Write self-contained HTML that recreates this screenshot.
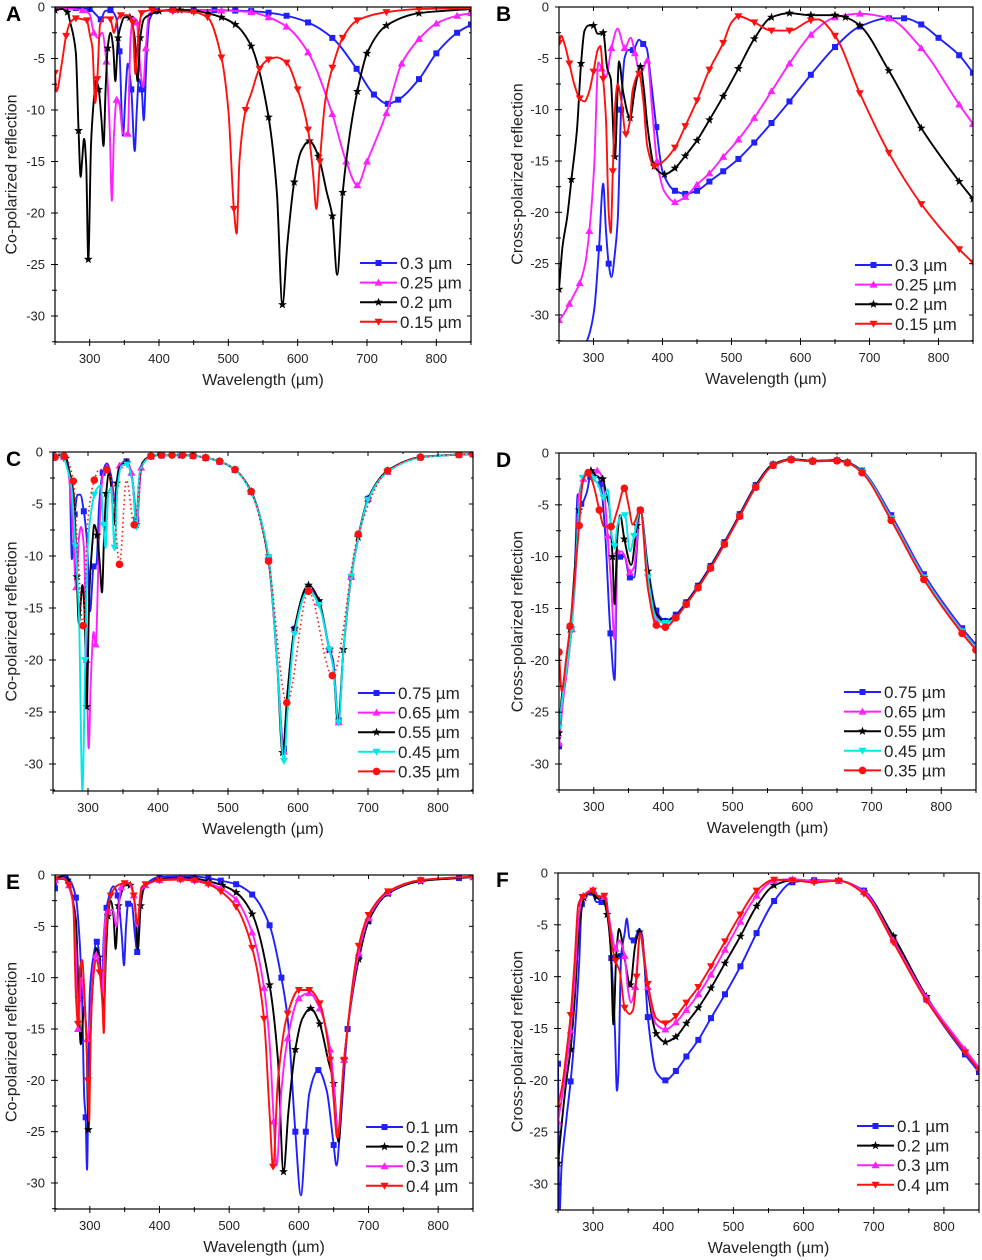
<!DOCTYPE html>
<html><head><meta charset="utf-8">
<style>
html,body{margin:0;padding:0;background:#fff;}
svg{display:block;font-family:"Liberation Sans",Arial,sans-serif;}
</style></head>
<body>
<svg id="fig" width="982" height="1260" viewBox="0 0 982 1260" xmlns="http://www.w3.org/2000/svg"></svg>
<script>
// ---------- DATA: [wavelength, reflection] ----------
const xTicks = [300,400,500,600,700,800];
const yTicks = [0,-5,-10,-15,-20,-25,-30];

// Panel A
const aLabels = ["0.3 µm","0.25 µm","0.2 µm","0.15 µm"];
const aBlue = [[250,-0.05],[280,-0.1],[300,-0.2],[310,-0.8],[316,-1.2],[322,-0.4],[330,-0.3],[338,-1],[343,-4.3],[348,-12.5],[352,-8],[355,-5.5],[360,-8],[365,-14],[368,-10],[371,-7],[375,-8],[378,-11],[382,-5],[386,-1.3],[395,-0.4],[420,-0.3],[450,-0.3],[480,-0.3],[510,-0.35],[533,-0.4],[558,-0.55],[584,-0.85],[615,-1.5],[650,-3],[685,-6],[710,-8.5],[730,-9.4],[745,-9],[775,-7],[800,-4.5],[830,-2.5],[850,-1.7]];
const aMag = [[250,-0.1],[290,-0.3],[300,-0.7],[306,-2.5],[312,-3],[318,-2.5],[324,-5.3],[329,-12],[332,-18.8],[335,-12.5],[339,-9],[343,-9.5],[348,-12.3],[355,-12.3],[359,-3],[363,-1],[368,-1.5],[373,-6],[377,-7.8],[381,-4],[386,-0.6],[420,-0.3],[450,-0.3],[490,-0.35],[533,-0.5],[558,-1],[584,-1.9],[615,-4.4],[650,-10.4],[670,-15],[686,-17.3],[700,-15],[728,-10.3],[750,-5.5],[775,-3.1],[800,-1.6],[830,-0.85],[850,-0.6]];
const aBlack = [[250,-0.3],[260,-0.2],[268,-0.5],[272,-1.5],[280,-4.4],[284,-12],[287,-16.5],[289,-15],[292,-12.8],[295,-15.3],[298,-24.5],[302,-13.3],[306,-9],[309,-7.1],[313,-8],[317,-10.9],[320,-13.5],[323,-8],[326,-4],[330,-2.5],[334,-4],[337,-7.2],[341,-3],[345,-1.8],[350,-1],[358,-1],[365,-3],[369,-7.2],[373,-3],[378,-1.2],[385,-0.8],[400,-0.4],[430,-0.3],[450,-0.35],[470,-0.6],[490,-1],[510,-1.7],[533,-3.8],[558,-10.7],[570,-18],[578,-28.9],[585,-23.1],[595,-17],[605,-14],[617,-13],[630,-14.5],[642,-18],[650,-20.3],[657,-26],[665,-18],[676,-12],[686,-8.2],[700,-4.5],[728,-1.8],[775,-0.6],[850,-0.2]];
const aRed = [[250,-6.4],[252,-8.2],[260,-5.4],[266,-2.8],[272,-1.5],[280,-1.1],[290,-1.2],[296,-1.3],[300,-2.6],[304,-4],[308,-9.3],[311,-7],[315,-1.7],[322,-1],[330,-1.2],[335,-2.5],[340,-1.2],[345,-0.8],[355,-0.8],[362,-1.5],[366,-6.5],[370,-3],[375,-0.6],[390,-0.3],[420,-0.4],[450,-0.5],[470,-1],[490,-4.9],[500,-10],[508,-19.6],[512,-22],[516,-15],[525,-10],[533,-8.4],[545,-6],[558,-5.1],[570,-4.9],[584,-5.4],[600,-8],[615,-11.9],[622,-16],[627,-19.6],[632,-15],[640,-9],[650,-5.9],[665,-3],[686,-1.3],[728,-0.5],[775,-0.2],[850,-0.1]];

// Panel B
const bLabels = ["0.3 µm","0.25 µm","0.2 µm","0.15 µm"];
const bBlue = [[288,-33],[295,-31.6],[301,-29.5],[308,-23.5],[314,-17.2],[318,-21.7],[322,-25],[326,-26.3],[331,-24],[335,-20.9],[340,-10],[345,-5],[350,-4.2],[357,-4.2],[366,-3.2],[372,-3.6],[377,-4],[383,-7],[391,-11.7],[400,-16],[418,-17.9],[433,-18.2],[450,-17.9],[468,-17],[488,-16],[510,-14.8],[533,-13.2],[558,-11.3],[584,-9.2],[615,-6.6],[650,-3.9],[686,-1.9],[728,-1.1],[750,-1.1],[775,-1.7],[800,-3],[830,-4.7],[850,-6.4]];
const bMag = [[250,-30.5],[256,-30],[265,-28.9],[272,-28],[280,-26.9],[288,-25],[294,-21.8],[301,-15.5],[307,-5.4],[312,-6],[318,-6.8],[326,-4],[335,-2.1],[345,-4],[354,-3],[360,-4.5],[368,-6.5],[378,-5.2],[385,-10],[392,-15],[403,-18],[418,-19],[433,-18.5],[450,-17.3],[468,-16.2],[488,-14.6],[510,-12.9],[533,-10.8],[558,-8.2],[584,-5.5],[615,-2.7],[650,-1],[686,-0.65],[728,-1.1],[775,-4],[830,-9.5],[850,-11.4]];
const bBlack = [[250,-27.5],[255,-23.4],[262,-20.4],[268,-16.8],[276,-12],[282,-5.5],[287,-2.3],[293,-1.8],[300,-1.8],[306,-2.6],[310,-2.6],[314,-2.5],[320,-6],[325,-7],[331,-14.6],[337,-5.3],[343,-8.3],[353,-10.8],[360,-8],[368,-5.8],[373,-8],[378,-11.5],[388,-15.5],[403,-16.3],[418,-15.7],[433,-14.5],[450,-13],[468,-11],[488,-8.7],[510,-6],[533,-3.1],[558,-1],[584,-0.6],[615,-0.8],[650,-0.8],[665,-1],[686,-1.8],[728,-6.2],[775,-11.8],[830,-17],[850,-18.7]];
const bRed = [[250,-3.5],[253,-2.8],[258,-3.6],[265,-5.5],[272,-7.5],[280,-8.9],[287,-9.2],[293,-8.4],[300,-6.3],[306,-4.2],[310,-3.8],[314,-7],[318,-10.8],[322,-20],[325,-22],[328,-16],[332,-9],[335,-7.5],[340,-9],[347,-12.4],[352,-11.4],[357,-8],[366,-6.5],[372,-9],[378,-13.6],[388,-15.5],[398,-15.2],[418,-13.7],[433,-11.6],[450,-9.1],[468,-6.1],[488,-3.5],[500,-1.5],[510,-0.9],[533,-1.5],[558,-2.3],[584,-2.3],[615,-1.3],[625,-1.2],[650,-2.8],[686,-8.4],[728,-14.2],[775,-19.2],[830,-23.6],[850,-24.9]];

// Panel C
const cLabels = ["0.75 µm","0.65 µm","0.55 µm","0.45 µm","0.35 µm"];
const cBlue = [[250,-0.3],[265,-0.4],[271,-1],[274,-3],[277,-10.3],[281,-6],[285,-4.1],[289,-4.1],[294,-5.7],[299,-9],[303,-15.3],[308,-11],[312,-10.8],[316,-5],[321,-2],[327,-1.1],[333,-2.3],[338,-4.5],[344,-1.5],[350,-1],[355,-0.9],[362,-2],[366,-4.3],[369,-6.5],[374,-2],[380,-1],[390,-0.4],[405,-0.3],[433,-0.3],[450,-0.35],[468,-0.55],[488,-0.9],[510,-1.7],[533,-3.8],[558,-10.2],[570,-20],[580,-28.5],[585,-24.5],[595,-17],[615,-13],[630,-14.5],[645,-19],[650,-20],[658,-25.8],[665,-19],[676,-12],[686,-8.2],[700,-4.5],[728,-1.9],[775,-0.5],[830,-0.25],[850,-0.2]];
const cMag = [[250,-0.4],[266,-0.5],[272,-2],[278,-6.8],[283,-13],[287,-8.3],[290,-7.2],[294,-9],[298,-20],[301,-28.5],[304,-22],[308,-17.3],[311,-18.5],[316,-8],[321,-2.3],[327,-1.5],[333,-3],[337,-4.5],[345,-1.3],[355,-0.9],[362,-2],[366,-4.5],[370,-6.8],[376,-1.5],[390,-0.4],[405,-0.3],[433,-0.3],[450,-0.35],[468,-0.55],[488,-0.9],[510,-1.7],[533,-3.8],[558,-10.4],[570,-20],[580,-28.8],[585,-23.3],[595,-17],[615,-12.9],[630,-14.5],[645,-19],[650,-20.5],[658,-26],[665,-19],[676,-12],[686,-8.4],[700,-4.5],[728,-1.9],[775,-0.5],[830,-0.25],[850,-0.2]];
const cBlack = [[250,-0.5],[260,-0.3],[268,-0.6],[272,-1.5],[280,-4.4],[284,-12],[287,-16.5],[289,-15],[292,-12.8],[295,-15.3],[298,-24.5],[302,-13.3],[306,-9],[309,-7],[313,-8],[317,-10.9],[320,-13.5],[323,-8],[326,-4],[330,-2],[334,-4],[337,-7],[341,-3],[345,-1.5],[355,-1],[364,-3],[369,-7],[373,-3],[378,-1],[390,-0.4],[405,-0.3],[433,-0.3],[450,-0.35],[468,-0.55],[488,-0.9],[510,-1.7],[533,-3.8],[558,-10.4],[570,-20],[578,-28.9],[585,-23.1],[595,-17],[615,-12.8],[630,-14.3],[645,-19],[650,-20.3],[657,-26],[665,-19],[676,-12],[686,-8.2],[700,-4.5],[728,-1.8],[775,-0.5],[830,-0.25],[850,-0.2]];
const cCyan = [[250,-0.4],[265,-0.5],[270,-1.5],[276,-3.2],[282,-9],[287,-15.4],[292,-32.5],[296,-20],[300,-8.7],[305,-5.5],[309,-4.1],[313,-3.5],[318,-3.2],[322,-7],[325,-9.2],[329,-4],[333,-3.4],[338,-9.2],[342,-3.5],[348,-1.3],[356,-1.2],[364,-3],[369,-7.2],[374,-2],[380,-1],[390,-0.4],[405,-0.3],[433,-0.3],[450,-0.35],[468,-0.55],[488,-0.9],[510,-1.7],[533,-3.9],[558,-10.1],[570,-20],[580,-29.7],[585,-25],[595,-17.5],[615,-13.3],[630,-14.7],[645,-19],[650,-20.5],[658,-26],[665,-19],[676,-12],[686,-8.3],[700,-4.6],[728,-1.9],[775,-0.55],[830,-0.25],[850,-0.2]];
const cRed = [[253,-0.5],[259,-0.2],[266,-0.4],[272,-1],[279,-2.8],[286,-10.5],[293,-16.7],[300,-6.4],[309,-2.7],[316,-1.7],[327,-1.7],[335,-3.3],[345,-10.8],[355,-2.7],[366,-7],[378,-1],[390,-0.4],[405,-0.3],[420,-0.3],[435,-0.3],[450,-0.35],[468,-0.55],[488,-0.9],[510,-1.7],[533,-3.8],[558,-10.5],[584,-24.1],[615,-13.4],[649,-21.5],[686,-7.9],[728,-1.8],[775,-0.5],[830,-0.25],[850,-0.2]];

// Panel D
const dLabels = ["0.75 µm","0.65 µm","0.55 µm","0.45 µm","0.35 µm"];
const dBlue = [[250,-28.3],[256,-23.5],[262,-20.5],[268,-17],[273,-10.8],[277,-4],[282,-4.9],[290,-3.8],[295,-2.3],[305,-2.2],[310,-3],[316,-7.3],[324,-17.4],[330,-21.9],[334,-10],[338,-10],[344,-10],[352,-12],[358,-12],[367,-5.5],[378,-11],[390,-15.2],[403,-16.2],[418,-15.6],[433,-14.4],[450,-12.8],[468,-10.9],[488,-8.6],[510,-5.9],[533,-3.1],[558,-1.1],[584,-0.6],[615,-0.75],[650,-0.7],[665,-0.9],[686,-1.7],[728,-6],[775,-11.7],[830,-16.9],[850,-18.5]];
const dMag = [[250,-28],[256,-23.8],[262,-20.8],[268,-17],[274,-11.5],[278,-4.5],[285,-2.5],[295,-1.8],[305,-1.7],[313,-2.5],[320,-8],[325,-12.6],[330,-18],[334,-9.5],[340,-9.5],[345,-10],[352,-11.5],[358,-11],[367,-5.5],[378,-11.5],[390,-16],[403,-16.4],[418,-15.8],[433,-14.6],[450,-13],[468,-11.1],[488,-8.8],[510,-6.1],[533,-3.3],[558,-1.2],[584,-0.6],[615,-0.8],[650,-0.7],[665,-0.9],[686,-1.8],[728,-6.2],[775,-11.9],[830,-17.1],[850,-18.7]];
const dBlack = [[250,-27],[254,-23.5],[260,-20.5],[266,-17],[272,-11.8],[279,-5.5],[286,-2.3],[296,-1.7],[305,-2.3],[313,-2.5],[318,-4],[322,-5],[327,-10],[330,-14.6],[334,-8],[338,-6],[344,-8.3],[354,-10.8],[362,-7],[367,-5.5],[378,-11.4],[390,-15.5],[403,-16.3],[418,-15.8],[433,-14.5],[450,-12.9],[468,-11],[488,-8.7],[510,-6],[533,-3.2],[558,-1.1],[584,-0.6],[615,-0.75],[650,-0.7],[665,-0.9],[686,-1.8],[728,-6.3],[775,-12],[830,-17.2],[850,-18.8]];
const dCyan = [[250,-26.5],[256,-23],[262,-20.3],[268,-17],[273,-12],[278,-6.3],[284,-2.4],[293,-1.7],[300,-2.5],[306,-3],[314,-4.3],[320,-3.5],[326,-8],[330,-9],[334,-7],[340,-6],[345,-6],[352,-9.5],[358,-8],[367,-5.5],[378,-12],[390,-16],[403,-16.4],[418,-15.9],[433,-14.6],[450,-13],[468,-11.1],[488,-8.8],[510,-6.1],[533,-3.3],[558,-1.2],[584,-0.65],[615,-0.8],[650,-0.75],[665,-0.95],[686,-1.8],[728,-6.3],[775,-12],[830,-17.2],[850,-18.8]];
const dRed = [[250,-19.2],[254,-23],[260,-20],[266,-16.7],[272,-12.5],[279,-7],[284,-2.7],[292,-1.9],[300,-3.2],[308,-5.5],[315,-7.1],[325,-7.1],[334,-5.5],[344,-3.4],[350,-5],[356,-6.9],[367,-5.5],[378,-13.1],[390,-16.6],[403,-16.8],[418,-15.9],[433,-14.6],[450,-13],[468,-11.1],[488,-8.8],[510,-6.1],[533,-3.3],[558,-1.2],[584,-0.65],[615,-0.8],[650,-0.75],[665,-0.95],[686,-1.9],[728,-6.5],[775,-12.2],[830,-17.4],[850,-19]];

// Panel E
const eLabels = ["0.1 µm","0.2 µm","0.3 µm","0.4 µm"];
const eBlue = [[250,-1.3],[255,-0.2],[265,-0.1],[272,-0.6],[280,-2.2],[285,-6],[289,-12.4],[292,-21.7],[294,-23.6],[296,-28.7],[298,-20],[300,-11.5],[305,-8],[310,-6.5],[314,-8],[317,-10.9],[320,-6],[324,-3.2],[334,-1.1],[340,-2],[346,-6],[349,-8.8],[352,-5],[355,-2.8],[360,-2.8],[365,-6],[368,-7.5],[372,-3],[380,-1],[400,-0.2],[450,-0.15],[470,-0.3],[488,-0.55],[510,-0.9],[533,-1.9],[558,-4.9],[575,-10],[584,-14],[595,-25],[603,-31.2],[610,-25],[615,-21.3],[628,-19],[640,-21],[650,-26.3],[654,-28.3],[660,-24],[670,-15],[686,-8],[700,-4.5],[728,-1.8],[775,-0.55],[830,-0.3],[850,-0.15]];
const eBlack = [[250,-0.3],[260,-0.2],[268,-0.5],[272,-1.5],[280,-4.4],[284,-12],[287,-16.5],[289,-15],[292,-12.8],[295,-15.3],[298,-24.8],[302,-13.3],[306,-9],[309,-7.1],[313,-8],[317,-10.9],[320,-13.5],[323,-8],[326,-4],[330,-2.5],[334,-4],[337,-7.2],[341,-3],[345,-1.8],[350,-1],[358,-1],[365,-3],[369,-7.2],[373,-3],[378,-1.2],[385,-0.8],[400,-0.4],[430,-0.3],[450,-0.35],[470,-0.6],[490,-1],[510,-1.7],[533,-3.8],[558,-10.7],[570,-18],[578,-28.9],[585,-23.1],[595,-17],[605,-14],[617,-13],[630,-14.5],[642,-18],[650,-20.3],[657,-26],[665,-18],[676,-12],[686,-8.2],[700,-4.5],[728,-1.8],[775,-0.6],[850,-0.2]];
const eMag = [[250,-0.5],[262,-0.3],[270,-1],[276,-3],[280,-7.6],[283,-15],[288,-10],[292,-12.3],[296,-16],[300,-14.7],[305,-9],[309,-7.8],[314,-9],[318,-11.5],[321,-5],[326,-3.5],[333,-3.4],[338,-5],[345,-1.2],[355,-0.8],[363,-2],[368,-5],[374,-1.5],[380,-1],[400,-0.5],[430,-0.4],[450,-0.5],[470,-0.8],[488,-1.3],[510,-2.4],[533,-5.6],[550,-11],[558,-16.3],[564,-24],[568,-28.3],[575,-21],[584,-15.9],[600,-12],[615,-11.5],[630,-13],[645,-17],[650,-20.2],[656,-25.5],[665,-18],[686,-7.6],[700,-4.2],[728,-1.7],[775,-0.5],[850,-0.15]];
const eRed = [[250,-0.4],[262,-0.4],[270,-1],[276,-2.5],[280,-11.7],[283,-14.5],[286,-9],[289,-8.3],[292,-11.2],[297,-20],[299,-24],[301,-16],[305,-10],[309,-8.3],[314,-9.5],[318,-12.5],[320,-15.4],[323,-6],[330,-2],[340,-1],[350,-0.8],[358,-0.8],[363,-2],[368,-4.8],[374,-1.2],[380,-0.9],[400,-0.5],[430,-0.45],[450,-0.55],[470,-0.9],[488,-1.6],[510,-3.1],[533,-7.1],[550,-14],[558,-23.2],[563,-28.4],[570,-20],[584,-13.5],[600,-11.2],[615,-11.2],[630,-12.5],[645,-18],[650,-21.9],[655,-25.6],[665,-18],[686,-6.9],[700,-3.9],[728,-1.6],[775,-0.5],[850,-0.15]];

// Panel F
const fLabels = ["0.1 µm","0.2 µm","0.3 µm","0.4 µm"];
const fBlue = [[250,-18.4],[252,-33],[255,-28.4],[262,-23.7],[268,-20.1],[274,-15.4],[280,-8.9],[284,-3],[290,-2.2],[298,-1.9],[305,-2.8],[312,-2.8],[318,-2.5],[326,-8.2],[331,-15],[334,-21],[336,-19.4],[340,-8],[345,-5.8],[348,-4.4],[352,-6.3],[358,-6.5],[366,-5.4],[370,-6],[378,-13.9],[390,-19.2],[403,-20],[418,-19.1],[433,-17.7],[450,-16.1],[468,-14],[488,-11.7],[510,-9],[533,-5.8],[558,-2.7],[584,-0.9],[615,-0.7],[650,-0.75],[686,-1.7],[728,-6.2],[775,-12.2],[830,-17.5],[850,-19.2]];
const fBlack = [[250,-28],[256,-23.7],[262,-20],[268,-17],[274,-12],[280,-5.5],[287,-2.4],[296,-1.9],[305,-2.3],[314,-2.5],[320,-4],[325,-7.2],[329,-14.6],[333,-8],[337,-5.4],[345,-8.3],[353,-10.8],[360,-7],[366,-5.7],[378,-11.4],[390,-15.5],[403,-16.3],[418,-15.8],[433,-14.5],[450,-13],[468,-11.1],[488,-8.7],[510,-6.1],[533,-3.2],[558,-1.2],[584,-0.7],[615,-0.75],[650,-0.75],[686,-1.8],[728,-6.1],[775,-11.9],[830,-17.2],[850,-18.9]];
const fMag = [[250,-24],[256,-21.5],[262,-18.6],[268,-15.2],[274,-10],[280,-4],[286,-2.2],[300,-1.6],[308,-2.3],[316,-2.3],[322,-4],[327,-6],[332,-7.3],[337,-6.5],[345,-8],[350,-11.4],[354,-12.5],[360,-11],[367,-6],[378,-11],[390,-14.6],[403,-15.1],[418,-14.4],[433,-13.2],[450,-11.7],[468,-9.8],[488,-7.4],[510,-4.7],[533,-2.2],[558,-0.75],[584,-0.6],[615,-0.75],[650,-0.75],[686,-1.8],[728,-6.5],[775,-12],[830,-17],[850,-18.8]];
const fRed = [[250,-22.5],[256,-20.5],[262,-17.3],[268,-13.7],[274,-8.2],[279,-3],[285,-2.3],[293,-1.9],[300,-1.7],[308,-2.3],[316,-2.2],[322,-4.4],[327,-7],[332,-8.5],[338,-9.5],[345,-13],[352,-13.6],[357,-13.2],[362,-10],[367,-5.8],[378,-10.7],[390,-14],[403,-14.5],[418,-13.8],[433,-12.5],[450,-11],[468,-9],[488,-6.6],[510,-4],[533,-1.7],[558,-0.65],[584,-0.7],[615,-0.9],[650,-0.75],[686,-2],[728,-6.7],[775,-12.3],[830,-17.3],[850,-19]];

// ---------- RENDERING ----------
const NS = "http://www.w3.org/2000/svg";
const svg = document.getElementById('fig');
function mk(tag, attrs, parent){
  const e = document.createElementNS(NS, tag);
  for (const k in attrs) e.setAttribute(k, attrs[k]);
  (parent||svg).appendChild(e);
  return e;
}
const C = {blue:"#1f1fff", mag:"#ff20ff", black:"#000000", cyan:"#00e8e8", red:"#ff1010"};

const panels = [
 {id:"A", x0:55, x1:471, y0:7, y30:316, yb:342, co:true, letterX:6, ytx:12,
  series:[[aBlue,C.blue,"sq"],[aMag,C.mag,"tu"],[aBlack,C.black,"st"],[aRed,C.red,"td"]], labels:aLabels, lx:360, ly:263},
 {id:"B", x0:559, x1:973, y0:7, y30:315, yb:341, co:false, letterX:496, ytx:518,
  series:[[bBlue,C.blue,"sq"],[bMag,C.mag,"tu"],[bBlack,C.black,"st"],[bRed,C.red,"td"]], labels:bLabels, lx:855, ly:265},
 {id:"C", x0:53, x1:473, y0:452, y30:764, yb:791, co:true, letterX:6, ytx:12,
  series:[[cBlue,C.blue,"sq"],[cMag,C.mag,"tu"],[cBlack,C.black,"st"],[cCyan,C.cyan,"td"],[cRed,C.red,"ci"]], labels:cLabels, lx:358, ly:693},
 {id:"D", x0:559, x1:976, y0:453, y30:764, yb:790, co:false, letterX:496, ytx:518,
  series:[[dBlue,C.blue,"sq"],[dMag,C.mag,"tu"],[dBlack,C.black,"st"],[dCyan,C.cyan,"td"],[dRed,C.red,"ci"]], labels:dLabels, lx:844, ly:692},
 {id:"E", x0:55, x1:473, y0:875, y30:1183, yb:1209, co:true, letterX:6, ytx:12,
  series:[[eBlue,C.blue,"sq"],[eBlack,C.black,"st"],[eMag,C.mag,"tu"],[eRed,C.red,"td"]], labels:eLabels, lx:366, ly:1127},
 {id:"F", x0:558, x1:979, y0:873, y30:1184, yb:1210, co:false, letterX:496, ytx:518,
  series:[[fBlue,C.blue,"sq"],[fBlack,C.black,"st"],[fMag,C.mag,"tu"],[fRed,C.red,"td"]], labels:fLabels, lx:857, ly:1126}
];

function monoPath(pts){
  const n = pts.length;
  if (n < 2) return "";
  const dx=[], dy=[], s=[];
  for (let i=0;i<n-1;i++){ dx[i]=pts[i+1][0]-pts[i][0]; dy[i]=pts[i+1][1]-pts[i][1]; s[i]=dy[i]/dx[i]; }
  const m=[s[0]];
  for (let i=1;i<n-1;i++){
    if (s[i-1]*s[i] <= 0) m[i]=0;
    else { const w1=2*dx[i]+dx[i-1], w2=dx[i]+2*dx[i-1]; m[i]=(w1+w2)/(w1/s[i-1]+w2/s[i]); }
  }
  m[n-1]=s[n-2];
  let d = "M"+pts[0][0].toFixed(2)+","+pts[0][1].toFixed(2);
  for (let i=0;i<n-1;i++){
    const h=dx[i]/3;
    d += " C"+(pts[i][0]+h).toFixed(2)+","+(pts[i][1]+m[i]*h).toFixed(2)+" "+(pts[i+1][0]-h).toFixed(2)+","+(pts[i+1][1]-m[i+1]*h).toFixed(2)+" "+pts[i+1][0].toFixed(2)+","+pts[i+1][1].toFixed(2);
  }
  return d;
}

function marker(kind, x, y, color, parent){
  let e;
  if (kind==="sq") e = mk('rect',{x:x-3,y:y-3,width:6,height:6,fill:color},parent);
  else if (kind==="tu") e = mk('polygon',{points:`${x},${y-4} ${x-4},${y+3} ${x+4},${y+3}`,fill:color},parent);
  else if (kind==="td") e = mk('polygon',{points:`${x-4},${y-3} ${x+4},${y-3} ${x},${y+4}`,fill:color},parent);
  else if (kind==="ci") e = mk('circle',{cx:x,cy:y,r:3.8,fill:color},parent);
  else {
    let p=[];
    for (let k=0;k<10;k++){ const r=k%2?1.9:4.6; const a=-Math.PI/2+k*Math.PI/5; p.push((x+r*Math.cos(a)).toFixed(2)+","+(y+r*Math.sin(a)).toFixed(2)); }
    e = mk('polygon',{points:p.join(" "),fill:color},parent);
  }
  return e;
}

panels.forEach(P=>{
  const sx = v => P.x0 + (v-250)/600*(P.x1-P.x0);
  const sy = v => P.y0 + (-v)/30*(P.y30-P.y0);
  const g = mk('g',{});
  
  
  const clipId = 'clip'+P.id;
  const cp = mk('clipPath',{id:clipId},g);
  mk('rect',{x:P.x0,y:P.y0,width:P.x1-P.x0,height:P.yb-P.y0},cp);

  const L = mk('text',{x:P.letterX,y:P.y0+14,'font-size':21,'font-weight':'bold',fill:'#000'},g);
  L.textContent = P.id;
  
  

  const sg = mk('g',{'clip-path':`url(#${clipId})`},g);
  P.series.forEach((S,si)=>{
    const [data,color,kind] = S;
    const pts = data.map(d=>[sx(d[0]),sy(d[1])]);
    const isDot = (P.id==="C" && kind==="ci");
    const path = mk('path',{d:monoPath(pts),fill:'none',stroke:color,'stroke-width':isDot?1.6:1.9,'stroke-linejoin':'round','stroke-dasharray':isDot?'1.5 3':'none'},sg);
    
    
    let lastX = -1e9;
    pts.forEach(p=>{
      if (p[0]-lastX < 9) return;
      lastX = p[0];
      const mEl = marker(kind,p[0],p[1],color,sg);
      
      
    });
  });

  const fr = mk('rect',{x:P.x0,y:P.y0,width:P.x1-P.x0,height:P.yb-P.y0,fill:'none',stroke:'#000','stroke-width':1.2},g);
  
  

  const xa = mk('g',{},g);
  
  
  for (let v=250; v<=850; v+=50){
    const x = sx(v), major = xTicks.indexOf(v)>=0;
    mk('line',{x1:x,x2:x,y1:P.yb-(major?3:2),y2:P.yb+(major?4:3),stroke:'#000','stroke-width':1},xa);
    mk('line',{x1:x,x2:x,y1:P.y0,y2:P.y0+(major?4:2),stroke:'#000','stroke-width':1},xa);
  }
  xTicks.forEach(v=>{
    const t = mk('text',{x:sx(v),y:P.yb+21,'font-size':13,'text-anchor':'middle',fill:'#222'},xa);
    t.textContent = v;
  });
  const xt = mk('text',{x:(P.x0+P.x1)/2,y:P.yb+43,'font-size':16,'text-anchor':'middle',fill:'#222'},g);
  xt.textContent = "Wavelength (µm)";
  
  

  const ya = mk('g',{},g);
  
  
  for (let v=0; v>=-32.5; v-=2.5){
    const y = sy(v), major = (v%5===0);
    mk('line',{x1:P.x0-(major?4:3),x2:P.x0+(major?3:2),y1:y,y2:y,stroke:'#000','stroke-width':1},ya);
    mk('line',{x1:P.x1-(major?4:2),x2:P.x1,y1:y,y2:y,stroke:'#000','stroke-width':1},ya);
  }
  yTicks.forEach(v=>{
    const t = mk('text',{x:P.x0-10,y:sy(v)+4.5,'font-size':13,'text-anchor':'end',fill:'#222'},ya);
    t.textContent = v;
  });
  const yc = (P.y0+P.yb)/2;
  const yt = mk('text',{x:P.ytx,y:yc,'font-size':16,'text-anchor':'middle',fill:'#222',transform:`rotate(-90 ${P.ytx} ${yc})`,'dominant-baseline':'central'},g);
  yt.textContent = P.co ? "Co-polarized reflection" : "Cross-polarized reflection";
  
  

  const lg = mk('g',{},g);
  
  
  P.series.forEach((S,i)=>{
    const [,color,kind] = S;
    const y = P.ly + i*19.6;
    const e = mk('g',{},lg);
    
    
    mk('line',{x1:P.lx,x2:P.lx+37,y1:y,y2:y,stroke:color,'stroke-width':2},e);
    marker(kind,P.lx+18.5,y,color,e);
    const t = mk('text',{x:P.lx+40,y:y+6,'font-size':17,fill:'#222'},e);
    t.textContent = P.labels[i];
  });
});
</script>
</body></html>
